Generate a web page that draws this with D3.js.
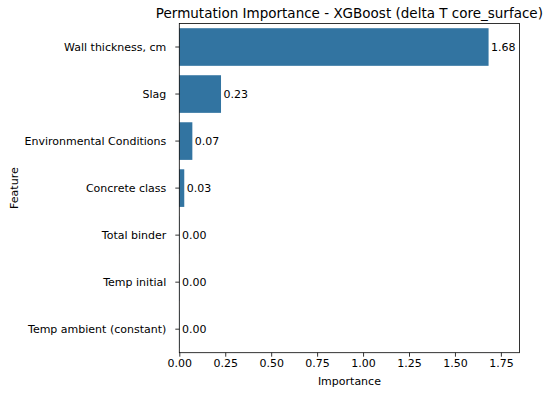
<!DOCTYPE html>
<html>
<head>
<meta charset="utf-8">
<script src="https://cdn.jsdelivr.net/npm/d3@7"></script>
<style>
body { margin: 0; background: #fff; }
text { font-family: "DejaVu Sans", sans-serif; fill: #000; }
</style>
</head>
<body>
<div id="chart"></div>
<script>
var features = ["Wall thickness, cm", "Slag", "Environmental Conditions", "Concrete class",
	"Total binder", "Temp initial", "Temp ambient (constant)"];
var importance = [1.683, 0.227, 0.071, 0.027, 0.001, 0.001, 0.001];
var labels = ["1.68", "0.23", "0.07", "0.03", "0.00", "0.00", "0.00"];
var xticks = [0, 0.25, 0.5, 0.75, 1.0, 1.25, 1.5, 1.75];

var width = 550, height = 395;
var margin = {top: 23.5, right: 30.5, bottom: 42.3, left: 179.3};
var fs = '11px';

var svg = d3.select('#chart').append('svg')
	.attr('width', width).attr('height', height);

var x = d3.scaleLinear()
	.domain([0, d3.max(importance) * 1.1])
	.range([margin.left, width - margin.right]);

var y = d3.scaleBand()
	.domain(features)
	.range([margin.top, height - margin.bottom])
	.paddingInner(0.2).paddingOuter(0.1);

svg.selectAll('rect.bar').data(features).enter().append('rect')
	.attr('class', 'bar')
	.attr('x', x(0))
	.attr('y', function(d) { return y(d); })
	.attr('width', function(d, i) { return x(importance[i]) - x(0); })
	.attr('height', y.bandwidth())
	.attr('fill', '#3274a1');

svg.selectAll('text.val').data(features).enter().append('text')
	.attr('class', 'val')
	.attr('x', function(d, i) { return x(importance[i]) + 2.5; })
	.attr('y', function(d) { return y(d) + y.bandwidth() / 2; })
	.attr('dy', '0.35em')
	.style('font-size', fs)
	.text(function(d, i) { return labels[i]; });

var xAxis = svg.append('g')
	.attr('transform', 'translate(0,' + (height - margin.bottom) + ')')
	.call(d3.axisBottom(x).tickValues(xticks).tickFormat(d3.format('.2f')).tickSize(4).tickPadding(3));
var yAxis = svg.append('g')
	.attr('transform', 'translate(' + margin.left + ',0)')
	.call(d3.axisLeft(y).tickSize(4).tickPadding(9));

[xAxis, yAxis].forEach(function(a) {
	a.selectAll('text').style('font-size', fs).attr('fill', '#000');
	a.select('.domain').remove();
	a.selectAll('line').attr('stroke', '#000').attr('stroke-width', 0.8);
});

// frame
svg.append('rect')
	.attr('x', margin.left).attr('y', margin.top)
	.attr('width', width - margin.right - margin.left)
	.attr('height', height - margin.bottom - margin.top)
	.attr('fill', 'none').attr('stroke', '#000').attr('stroke-width', 0.8);

svg.append('text')
	.attr('x', (margin.left + width - margin.right) / 2)
	.attr('y', 18)
	.attr('text-anchor', 'middle')
	.style('font-size', '13.5px')
	.text('Permutation Importance - XGBoost (delta T core_surface)');

svg.append('text')
	.attr('x', (margin.left + width - margin.right) / 2)
	.attr('y', 385)
	.attr('text-anchor', 'middle')
	.style('font-size', fs)
	.text('Importance');

svg.append('text')
	.attr('transform', 'translate(18,' + ((margin.top + height - margin.bottom) / 2) + ') rotate(-90)')
	.attr('text-anchor', 'middle')
	.style('font-size', fs)
	.text('Feature');
</script>
</body>
</html>
